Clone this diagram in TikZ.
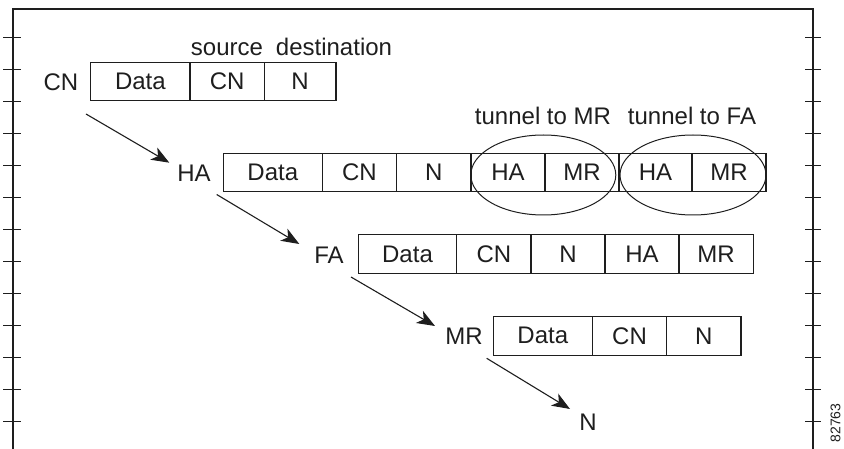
\documentclass[tikz,border=0pt]{standalone}
\usepackage{fontspec}
\setmainfont{Liberation Sans}
\usetikzlibrary{shapes.geometric,arrows.meta}
\definecolor{ink}{RGB}{30,30,30}
\begin{document}
\begin{tikzpicture}[x=1pt,y=-1pt,
  every node/.style={text=ink,font=\fontsize{24}{28}\selectfont},
  cell/.style={draw=ink,line width=1.1pt,rectangle,inner sep=0pt,minimum height=38.4pt},
  hoplabel/.style={inner sep=0pt},
  note/.style={inner sep=0pt,anchor=base},
  tunnel/.style={draw=ink,line width=1pt,ellipse,inner sep=0pt,minimum height=80pt},
  hop/.style={draw=ink,line width=1.1pt,-{Stealth[length=18pt,width=14pt,inset=5pt]}},
  frame/.style={draw=ink,line width=1.2pt}]
\useasboundingbox (0,0) rectangle (844,449);

% ruled frame with tick marks on both sides
\draw[frame] (13,449) -- (13,9) -- (813,9) -- (813,449);
\foreach \k in {0,...,12}{
  \draw[frame] (3,37.3+32*\k) -- (21,37.3+32*\k);
  \draw[frame] (805,37.3+32*\k) -- (821,37.3+32*\k);
}
\node[rotate=90,inner sep=0pt,font=\fontsize{14}{16}\selectfont] (figno) at (835.5,423) {82763};

% packet sent by CN
\node[hoplabel] (cn) at (61,82) {CN};
\node[cell,minimum width=99.3pt] (r1d) at (140.35,81.5) {Data};
\node[cell,minimum width=74.3pt] (r1c) at (227.15,81.5) {CN};
\node[cell,minimum width=71.7pt] (r1n) at (300.15,81.5) {N};
\node[note] (src) at (227,55.5) {source};
\node[note] (dst) at (334,55.5) {destination};

% packet leaving HA, two tunnel headers
\node[hoplabel] (ha) at (194,173) {HA};
\node[cell,minimum width=99pt] (r2d) at (272.8,172.5) {Data};
\node[cell,minimum width=74.4pt] (r2c) at (359.5,172.5) {CN};
\node[cell,minimum width=74.3pt] (r2n) at (433.85,172.5) {N};
\node[cell,minimum width=74pt] (r2h1) at (508,172.5) {HA};
\node[cell,minimum width=74pt] (r2m1) at (582,172.5) {MR};
\node[cell,minimum width=73pt] (r2h2) at (655.5,172.5) {HA};
\node[cell,minimum width=74pt] (r2m2) at (729,172.5) {MR};
\node[tunnel,minimum width=145pt] (tmr) at (543.3,175) {};
\node[tunnel,minimum width=146pt] (tfa) at (693,175) {};
\node[note] (ltmr) at (543,124.5) {tunnel to MR};
\node[note] (ltfa) at (692,124.5) {tunnel to FA};

% packet at FA
\node[hoplabel] (fa) at (329,255) {FA};
\node[cell,minimum width=98.4pt] (r3d) at (407.5,254.15) {Data};
\node[cell,minimum width=74.3pt] (r3c) at (493.85,254.15) {CN};
\node[cell,minimum width=74pt] (r3n) at (568,254.15) {N};
\node[cell,minimum width=74pt] (r3h) at (642,254.15) {HA};
\node[cell,minimum width=74.3pt] (r3m) at (716.15,254.15) {MR};

% packet at MR
\node[hoplabel] (mr) at (464,336.5) {MR};
\node[cell,minimum width=99pt] (r4d) at (542.8,335.85) {Data};
\node[cell,minimum width=74.4pt] (r4c) at (629.5,335.85) {CN};
\node[cell,minimum width=74.3pt] (r4n) at (703.85,335.85) {N};

% destination node
\node[hoplabel] (n) at (588,422.5) {N};

% hop arrows
\coordinate (h1s) at (86,114);    \coordinate (h1e) at (169.3,162.7);
\coordinate (h2s) at (216.7,194.5); \coordinate (h2e) at (299.3,244);
\coordinate (h3s) at (351,277);   \coordinate (h3e) at (435,326);
\coordinate (h4s) at (486.7,358.3); \coordinate (h4e) at (570,409);
\draw[hop] (h1s) -- (h1e);
\draw[hop] (h2s) -- (h2e);
\draw[hop] (h3s) -- (h3e);
\draw[hop] (h4s) -- (h4e);
\end{tikzpicture}
\end{document}
